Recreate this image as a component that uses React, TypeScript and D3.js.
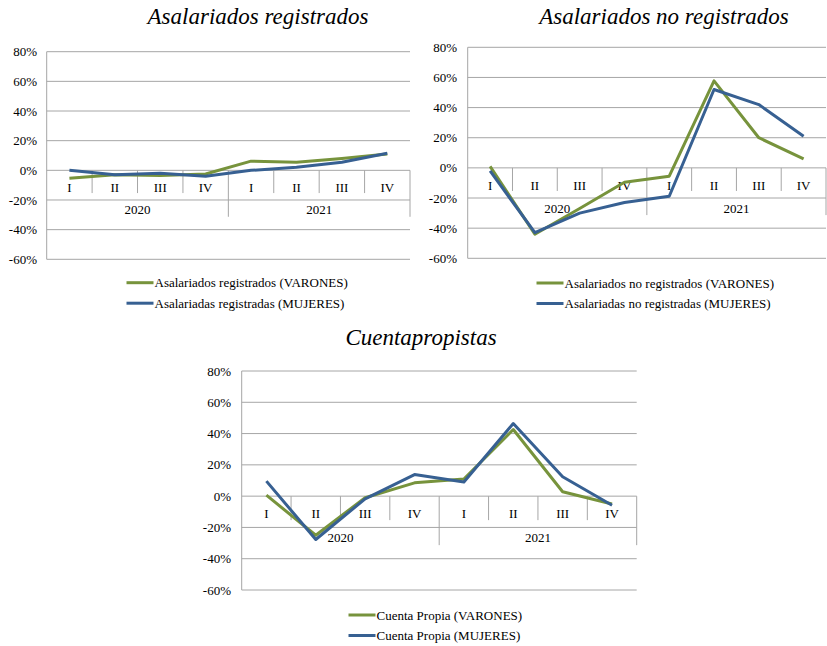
import React from "react";
import * as d3 from "d3";

const quarters = ["I", "II", "III", "IV", "I", "II", "III", "IV"];
const years = ["2020", "2021"];
const yTicks = [-60, -40, -20, 0, 20, 40, 60, 80];

const regVarones = [-5.4, -3, -3.5, -2.5, 6.2, 5.5, 8, 11];
const regMujeres = [0, -3, -2, -4, 0, 2, 5.5, 11.5];
const noRegVarones = [1, -44, -27, -9.5, -5.5, 57.7, 20, 6];
const noRegMujeres = [-2, -43, -30, -23, -18.8, 52, 42, 21];
const cpVarones = [0.6, -25, -1, 8.5, 11, 42.6, 2.8, -5];
const cpMujeres = [9.6, -27.7, -1.7, 13.8, 9, 46.4, 12.4, -5.8];

const titles = ["Asalariados registrados", "Asalariados no registrados", "Cuentapropistas"];
const legend1 = ["Asalariados registrados (VARONES)", "Asalariadas registradas (MUJERES)"];
const legend2 = ["Asalariados no registrados (VARONES)", "Asalariadas no registradas (MUJERES)"];
const legend3 = ["Cuenta Propia (VARONES)", "Cuenta Propia (MUJERES)"];

const GREEN = "#77933C";
const BLUE = "#376092";
const GRID = "#a6a6a6";
const FONT = "'Liberation Serif', 'Times New Roman', serif";

type PanelProps = {
  left: number; right: number; top: number; bottom: number;
  v: number[]; m: number[]; legend: string[];
  title: string; titleX: number; titleY: number;
  legX: number; legY: number; labelRight: number;
};

function Panel(p: PanelProps) {
  const y = d3.scaleLinear().domain([-60, 80]).range([p.bottom, p.top]);
  const x = d3.scaleBand().domain(d3.range(quarters.length).map(String)).range([p.left, p.right]);
  const bw = x.bandwidth();
  const y0 = y(0);
  const s = (y(0) - y(20)) / 30;
  const line = d3.line<number>().x((_, i) => (x(String(i)) as number) + bw / 2).y((d) => y(d));
  return (
    <g fontFamily={FONT} fill="#000">
      <text x={p.titleX} y={p.titleY} textAnchor="middle" fontStyle="italic" fontSize={23}>{p.title}</text>
      {yTicks.map((t) => (
        <g key={t}>
          <line x1={p.left} x2={p.right} y1={y(t)} y2={y(t)} stroke={GRID} strokeWidth={1} />
          <text x={p.labelRight} y={y(t)} dy="0.35em" textAnchor="end" fontSize={13}>{t}%</text>
        </g>
      ))}
      <line x1={p.left} x2={p.left} y1={p.top} y2={p.bottom} stroke={GRID} />
      {quarters.map((q, i) => {
        const xs = x(String(i)) as number;
        return (
          <g key={i}>
            {i > 0 && i !== 4 && (
              <line x1={xs} x2={xs} y1={y0} y2={y0 + 23 * s} stroke={GRID} />
            )}
            <text x={xs + bw / 2} y={y0 + 17 * s} dy="0.35em" textAnchor="middle" fontSize={13}>{q}</text>
          </g>
        );
      })}
      {[p.left + bw * 4, p.right].map((xx, i) => (
        <line key={i} x1={xx} x2={xx} y1={y0} y2={y0 + 47 * s} stroke={GRID} />
      ))}
      {years.map((yr, i) => (
        <text key={yr} x={p.left + bw * (2 + 4 * i)} y={y0 + 40 * s} dy="0.35em" textAnchor="middle" fontSize={13}>{yr}</text>
      ))}
      <path d={line(p.v) || ""} fill="none" stroke={GREEN} strokeWidth={3} strokeLinejoin="round" />
      <path d={line(p.m) || ""} fill="none" stroke={BLUE} strokeWidth={3} strokeLinejoin="round" />
      {p.legend.map((l, i) => (
        <g key={l}>
          <line x1={p.legX} x2={p.legX + 27} y1={p.legY + i * 20.5} y2={p.legY + i * 20.5} stroke={i === 0 ? GREEN : BLUE} strokeWidth={3} />
          <text x={p.legX + 28} y={p.legY + i * 20.5} dy="0.35em" fontSize={13}>{l}</text>
        </g>
      ))}
    </g>
  );
}

export default function App() {
  return (
    <svg width={827} height={646} style={{ position: "absolute", left: 0, top: 0, background: "#fff" }}>
      <rect width={827} height={646} fill="#fff" />
      <Panel left={46.7} right={410} top={51.7} bottom={259.3} v={regVarones} m={regMujeres}
        legend={legend1} title={titles[0]} titleX={258} titleY={24} legX={126.5} legY={282.7} labelRight={37} />
      <Panel left={467.7} right={826} top={47.3} bottom={258.3} v={noRegVarones} m={noRegMujeres}
        legend={legend2} title={titles[1]} titleX={664} titleY={24} legX={536.5} legY={283} labelRight={457} />
      <Panel left={241.7} right={636.7} top={371} bottom={590} v={cpVarones} m={cpMujeres}
        legend={legend3} title={titles[2]} titleX={421} titleY={345} legX={348.5} legY={615} labelRight={231} />
    </svg>
  );
}
